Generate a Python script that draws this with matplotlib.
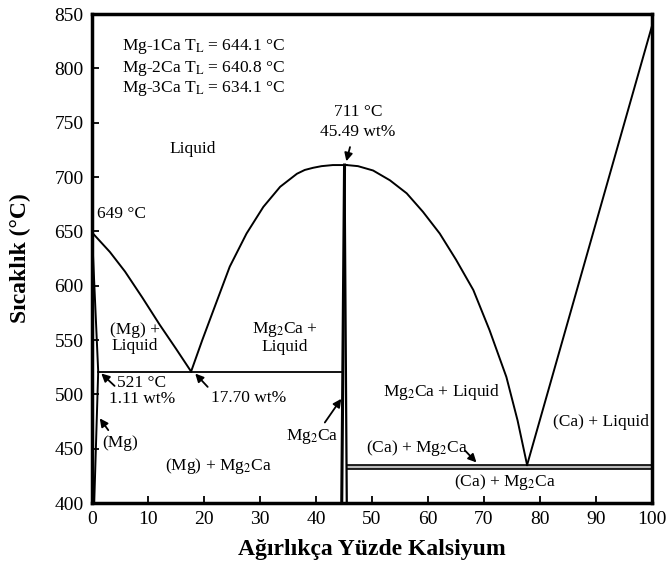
import matplotlib
matplotlib.use("Agg")
import matplotlib.pyplot as plt

plt.rcParams['font.family'] = ['Liberation Serif', 'DejaVu Serif']
plt.rcParams['mathtext.fontset'] = 'stix'

# Liquidus (Mg side): Mg -> eutectic 17.70 wt%, 521 C
mg_liq_x = [0, 3.2, 5.9, 9.0, 12.1, 15.0, 17.7]
mg_liq_t = [649, 631, 613, 589, 564, 542, 521]

# Mg solidus / solvus
mg_sol_x = [0, 1.11, 0.4]
mg_sol_t = [649, 521, 400]

# Liquidus (Mg2Ca, left branch)
l1_x = [17.7, 19.7, 21.7, 24.6, 27.6, 30.6, 33.6, 36.6, 38.0, 39.5, 41.0, 43.0, 45.49]
l1_t = [521, 550, 577.6, 617.5, 648, 672.5, 691, 703, 706.5, 708.5, 710, 711, 711]

# Liquidus (Mg2Ca, right branch)
l2_x = [45.49, 47.5, 50.2, 53.2, 56.2, 59.1, 62.1, 65.0, 68.1, 71.0, 74.0, 76.0, 77.7]
l2_t = [711, 710, 706, 697, 685, 668, 648, 624, 596, 559, 516, 476, 435]

# Liquidus (Ca side)
ca_liq_x = [77.7, 100]
ca_liq_t = [435, 839]

# Mg2Ca compound boundaries
mg2ca_left_x = [44.6, 45.1]
mg2ca_left_t = [400, 711]
mg2ca_right_x = [45.1, 45.5]
mg2ca_right_t = [711, 400]

# Eutectic lines
eut1_x = [1.11, 44.7]
eut1_t = [521, 521]
eut2_x = [45.5, 100]
eut2_upper = [435, 435]
eut2_lower = [431, 431]

fig = plt.figure(figsize=(6.68, 5.65), dpi=100)
ax = fig.add_axes([0.1377, 0.1097, 0.8383, 0.8655])

lc = 'black'
ax.plot(mg_liq_x, mg_liq_t, color=lc, lw=1.4)
ax.plot(mg_sol_x, mg_sol_t, color=lc, lw=1.4)
ax.plot(l1_x, l1_t, color=lc, lw=1.4)
ax.plot(l2_x, l2_t, color=lc, lw=1.4)
ax.plot(ca_liq_x, ca_liq_t, color=lc, lw=1.4)
ax.plot(mg2ca_left_x, mg2ca_left_t, color=lc, lw=2.2)
ax.plot(mg2ca_right_x, mg2ca_right_t, color=lc, lw=1.6)
ax.plot(eut1_x, eut1_t, color=lc, lw=1.3)
ax.fill_between(eut2_x, eut2_lower, eut2_upper, color='#bbbbbb', lw=0)
ax.plot(eut2_x, eut2_upper, color=lc, lw=1.2)
ax.plot(eut2_x, eut2_lower, color=lc, lw=1.2)

ax.set_xlim(0, 100)
ax.set_ylim(400, 850)
ax.set_xticks(range(0, 101, 10))
ax.set_yticks(range(400, 851, 50))
ax.tick_params(direction='in', length=5, width=1.3, labelsize=14, pad=6)
for s in ax.spines.values():
    s.set_linewidth(2.5)

ax.set_xlabel('Ağırlıkça Yüzde Kalsiyum', fontsize=17, fontweight='bold', labelpad=8)
ax.set_ylabel('Sıcaklık (°C)', fontsize=17, fontweight='bold', labelpad=17)

fs = 12.5
ax.text(5.4, 820, 'Mg-1Ca T$_\\mathrm{L}$ = 644.1 °C', fontsize=fs, va='center')
ax.text(5.4, 800, 'Mg-2Ca T$_\\mathrm{L}$ = 640.8 °C', fontsize=fs, va='center')
ax.text(5.4, 781, 'Mg-3Ca T$_\\mathrm{L}$ = 634.1 °C', fontsize=fs, va='center')
ax.text(18.0, 726, 'Liquid', fontsize=fs, ha='center', va='center')
ax.text(0.9, 666, '649 °C', fontsize=fs, ha='left', va='center')
ax.text(47.5, 760, '711 °C', fontsize=fs, ha='center', va='center')
ax.text(47.5, 741, '45.49 wt%', fontsize=fs, ha='center', va='center')
ax.annotate('', xy=(45.3, 712), xytext=(46.2, 730),
            arrowprops=dict(arrowstyle='-|>', color='k', lw=1.3, mutation_scale=12))
ax.text(7.7, 552, '(Mg) +\nLiquid', fontsize=fs, ha='center', va='center', linespacing=1.0)
ax.text(34.5, 552, 'Mg$_2$Ca +\nLiquid', fontsize=fs, ha='center', va='center', linespacing=1.0)
ax.text(8.9, 503, '521 °C\n1.11 wt%', fontsize=fs, ha='center', va='center', linespacing=1.0)
ax.annotate('', xy=(1.3, 521), xytext=(4.4, 506),
            arrowprops=dict(arrowstyle='-|>', color='k', lw=1.3, mutation_scale=12))
ax.text(27.9, 497, '17.70 wt%', fontsize=fs, ha='center', va='center')
ax.annotate('', xy=(18.1, 521), xytext=(21.0, 505),
            arrowprops=dict(arrowstyle='-|>', color='k', lw=1.3, mutation_scale=12))
ax.text(5.0, 455, '(Mg)', fontsize=fs, ha='center', va='center')
ax.annotate('', xy=(1.1, 480), xytext=(3.2, 465),
            arrowprops=dict(arrowstyle='-|>', color='k', lw=1.3, mutation_scale=12))
ax.text(22.5, 434, '(Mg) + Mg$_2$Ca', fontsize=fs, ha='center', va='center')
ax.text(39.3, 461, 'Mg$_2$Ca', fontsize=fs, ha='center', va='center')
ax.annotate('', xy=(44.8, 498), xytext=(41.3, 472),
            arrowprops=dict(arrowstyle='-|>', color='k', lw=1.3, mutation_scale=12))
ax.text(62.5, 502, 'Mg$_2$Ca + Liquid', fontsize=fs, ha='center', va='center')
ax.text(58.0, 451, '(Ca) + Mg$_2$Ca', fontsize=fs, ha='center', va='center')
ax.annotate('', xy=(69.0, 435.5), xytext=(66.3, 450),
            arrowprops=dict(arrowstyle='-|>', color='k', lw=1.3, mutation_scale=12))
ax.text(73.75, 419, '(Ca) + Mg$_2$Ca', fontsize=fs, ha='center', va='center')
ax.text(90.9, 474.5, '(Ca) + Liquid', fontsize=fs, ha='center', va='center')

fig.savefig('out.png', dpi=100)
